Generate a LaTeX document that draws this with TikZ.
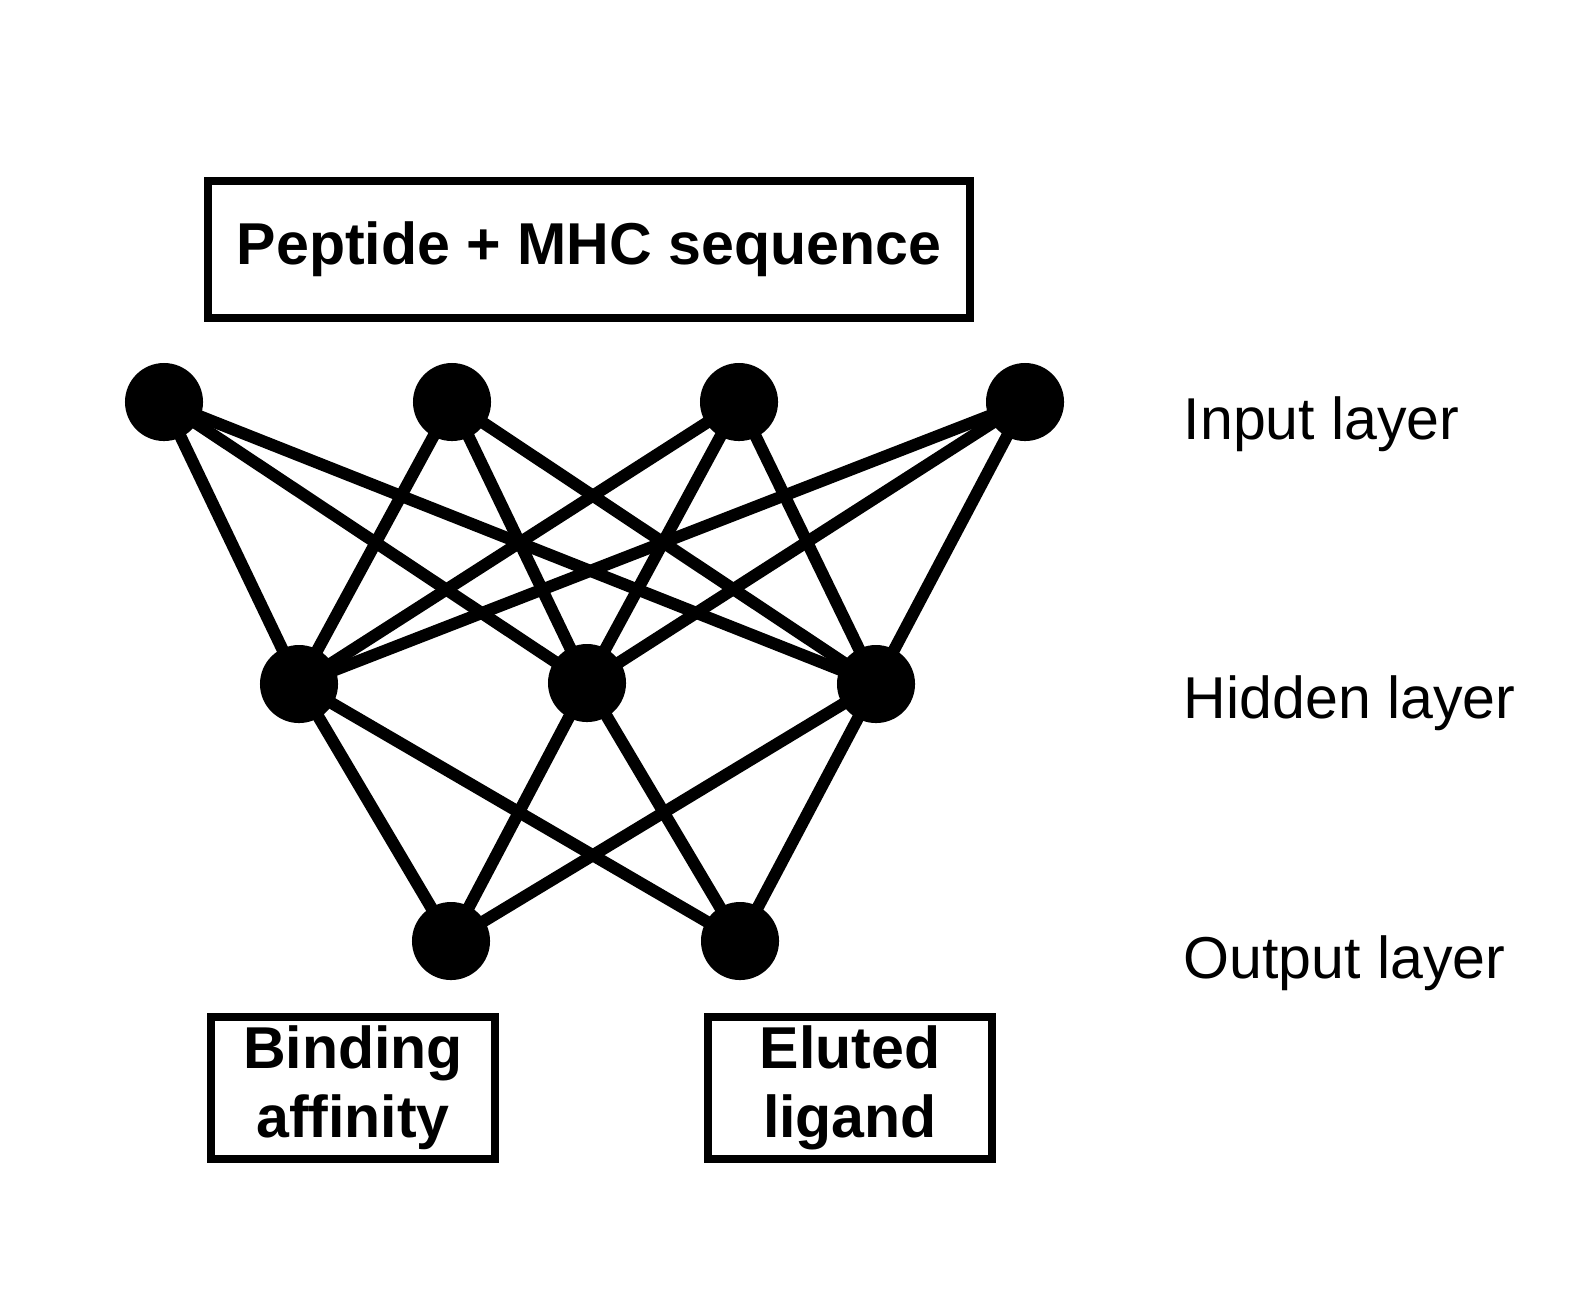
\documentclass[tikz,border=0pt]{standalone}
\usepackage{fontspec}
\setmainfont{Liberation Sans}
\begin{document}
\begin{tikzpicture}[x=0.01cm,y=-0.01cm,
  neuron/.style={circle,fill=black,draw=none,minimum size=0.78cm,inner sep=0pt},
  link/.style={line width=0.12cm,black},
  boxnode/.style={draw=black,line width=0.08cm,inner sep=0pt,align=center,
    font=\fontsize{16.8}{19.6}\selectfont\bfseries},
  layerlabel/.style={anchor=base west,inner sep=0pt,font=\fontsize{16.8}{19.6}\selectfont}]
\useasboundingbox (0,0) rectangle (1586,1302);
\fill[white] (0,0) rectangle (1586,1302);
% boxes
\node[boxnode,minimum width=7.62cm,minimum height=1.37cm] (top) at (589,249.5) {Peptide + MHC sequence};
\node[boxnode,minimum width=2.83cm,minimum height=1.42cm] (ba) at (353,1088) {Binding\\affinity};
\node[boxnode,minimum width=2.83cm,minimum height=1.42cm] (el) at (850,1088) {Eluted\\ligand};
% neurons
\node[neuron] (i1) at (164,402) {};
\node[neuron] (i2) at (452,402) {};
\node[neuron] (i3) at (739,402) {};
\node[neuron] (i4) at (1025,402) {};
\node[neuron] (h1) at (299,684) {};
\node[neuron] (h2) at (587,683) {};
\node[neuron] (h3) at (876,684) {};
\node[neuron] (o1) at (451,941) {};
\node[neuron] (o2) at (740,941) {};
% connections
\foreach \a in {i1,i2,i3,i4}{
  \foreach \b in {h1,h2,h3}{
    \draw[link] (\a.center) -- (\b.center);
  }
}
\foreach \a in {h1,h2,h3}{
  \foreach \b in {o1,o2}{
    \draw[link] (\a.center) -- (\b.center);
  }
}
% labels
\node[layerlabel] (lin) at (1183,439) {Input layer};
\node[layerlabel] (lhid) at (1183,718) {Hidden layer};
\node[layerlabel] (lout) at (1183,978) {Output layer};
\end{tikzpicture}
\end{document}
